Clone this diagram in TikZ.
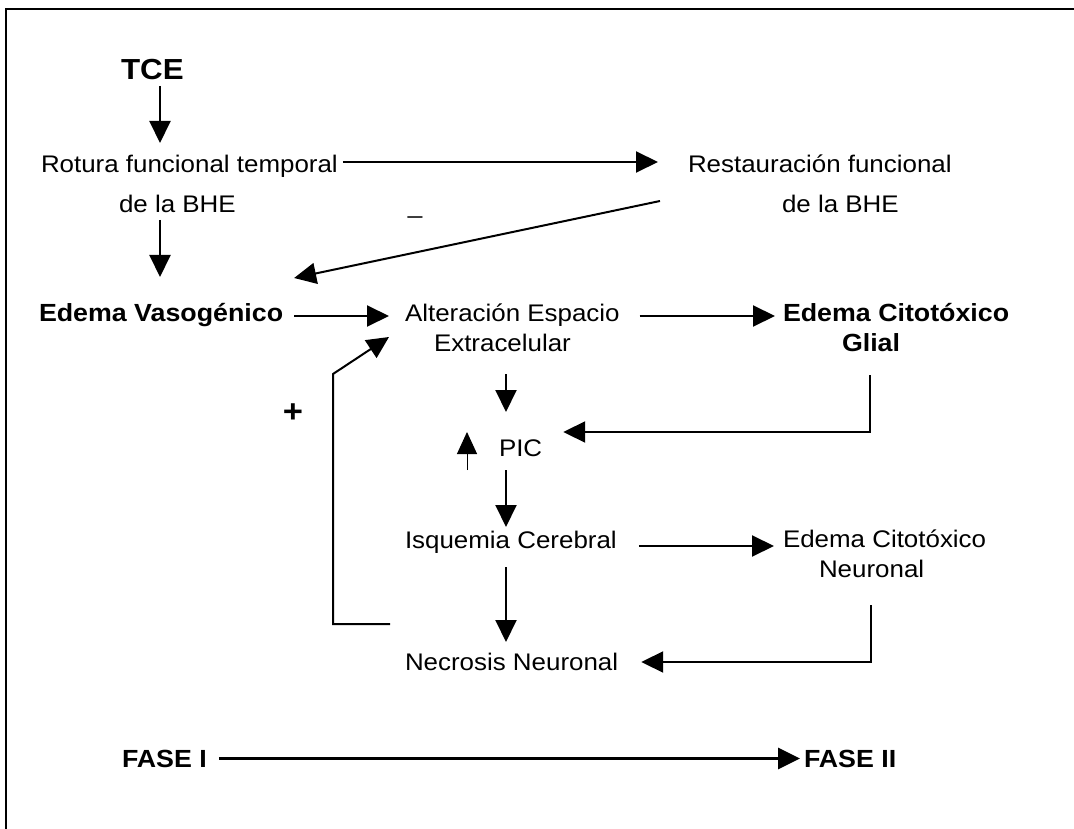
\documentclass[tikz,border=0pt]{standalone}
\usepackage{fontspec}
\setmainfont{Liberation Sans}[FakeStretch=1.08]
\usetikzlibrary{arrows.meta,calc}
\begin{document}
\begin{tikzpicture}[x=1pt,y=-1pt,
  txt/.style={inner sep=0pt,outer sep=0pt,anchor=base west,text height=18pt,text depth=5pt,font=\fontsize{24}{28}\selectfont},
  btxt/.style={txt,font=\fontsize{24.8}{28}\selectfont\bfseries},
  arr/.style={line width=2pt,-{Triangle[length=22pt,width=21pt]}},
  thinarr/.style={line width=1pt,-{Triangle[length=22pt,width=20pt]}},
  frame/.style={line width=2pt}]
\useasboundingbox (0,0) rectangle (1074,829);
\draw[frame] (6,829) -- (6,9) -- (1074,9);

\node[txt,font=\fontsize{29}{33}\selectfont\bfseries,text height=20pt] (tce) at (121,80) {TCE};
\node[txt] (rot1) at (41,173) {Rotura funcional temporal};
\node[txt] (rot2) at (119,213) {de la BHE};
\node[txt] (res1) at (688,173) {Restauración funcional};
\node[txt] (res2) at (782,213) {de la BHE};
\node[txt,anchor=base] (minus) at (415,214) {\_};
\node[btxt] (vas) at (39,321) {Edema Vasogénico};
\node[txt] (alt1) at (405,321) {Alteración Espacio};
\node[txt] (alt2) at (434,351) {Extracelular};
\node[btxt] (cg1) at (783,321) {Edema Citotóxico};
\node[btxt] (cg2) at (842,351) {Glial};
\node[txt] (pic) at (499,456) {PIC};
\node[txt] (isq) at (405,548) {Isquemia Cerebral};
\node[txt] (cn1) at (783,547) {Edema Citotóxico};
\node[txt] (cn2) at (819,577) {Neuronal};
\node[txt] (nec) at (405,670) {Necrosis Neuronal};
\node[inner sep=0pt,font=\fontsize{32}{34}\selectfont\bfseries] (plus) at (293,413) {+};
\node[btxt] (f1) at (122,767) {FASE I};
\node[btxt] (f2) at (804,767) {FASE II};

% TCE -> Rotura
\draw[arr] ($(tce.south west)+(39,1)$) -- ($(rot1.north west)+(119,-12)$);
% Rotura -> Restauracion
\draw[arr] ($(rot1.east)+(5,-4.5)$) -- ($(res1.west)+(-30,-4.5)$);
% Rotura -> Edema Vasogenico
\draw[arr] ($(rot2.south west)+(41,2)$) -- ($(vas.north west)+(121,-26)$);
% Restauracion -> Edema Vasogenico
\draw[arr] ($(res1.south west)+(-28,23)$) -- ($(vas.north east)+(11,-25)$);
% Vasogenico -> Alteracion
\draw[arr] ($(vas.east)+(11,1.5)$) -- ($(alt1.west)+(-16,1.5)$);
% Alteracion -> Citotoxico glial
\draw[arr] ($(alt1.east)+(20,1.5)$) -- ($(cg1.west)+(-8,1.5)$);
% Alteracion -> PIC
\draw[arr] ($(alt2.south west)+(72,18)$) -- ($(pic.north west)+(7,-26)$);
% Glial -> PIC
\draw[arr] ($(cg2.south west)+(28,19)$) |- ($(pic.east)+(21,-17.5)$);
% small up arrow
\draw[thinarr] ($(pic.south west)+(-32,9)$) -- ($(pic.north west)+(-32,-6)$);
% PIC -> Isquemia
\draw[arr] ($(pic.south west)+(7,9)$) -- ($(isq.north west)+(101,-3)$);
% Isquemia -> Citotoxico neuronal
\draw[arr] ($(isq.east)+(22,4.5)$) -- ($(cn1.west)+(-9,5.5)$);
% Isquemia -> Necrosis
\draw[arr] ($(isq.south west)+(101,14)$) -- ($(nec.north west)+(101,-10)$);
% Neuronal -> Necrosis
\draw[arr] ($(cn2.south west)+(52,23)$) |- ($(nec.east)+(23,-1.5)$);
% Necrosis -> Alteracion (feedback)
\draw[arr] ($(nec.north west)+(-15,-28)$) -- ++(-57,0) -- ++(0,-250) -- ($(alt1.south west)+(-16,11)$);
% FASE I -> FASE II
\draw[line width=3pt,-{Triangle[length=22pt,width=21pt]}] ($(f1.east)+(12,-2)$) -- ($(f2.west)+(-4,-2)$);
\end{tikzpicture}
\end{document}
